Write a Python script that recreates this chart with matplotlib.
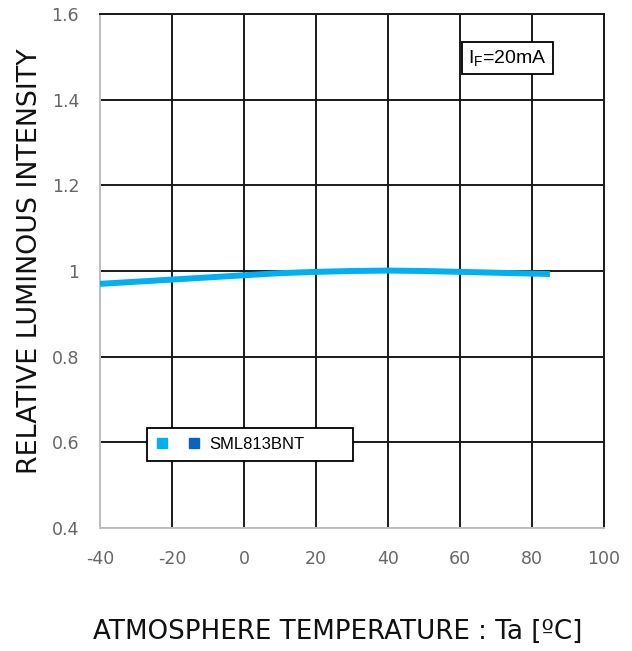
import matplotlib.pyplot as plt
from matplotlib.lines import Line2D
from matplotlib.legend_handler import HandlerTuple

plt.rcParams['axes.unicode_minus'] = False

# data
temp = [-40, -30, -20, -10, 0, 10, 20, 30, 40, 50, 60, 70, 80, 85]
intensity = [0.970, 0.975, 0.980, 0.985, 0.990, 0.995, 0.998, 1.000, 1.001, 1.000, 0.998, 0.996, 0.994, 0.993]

xticks = [-40, -20, 0, 20, 40, 60, 80, 100]
yticks = [0.4, 0.6, 0.8, 1.0, 1.2, 1.4, 1.6]
ytick_labels = ['0.4', '0.6', '0.8', '1', '1.2', '1.4', '1.6']

series_name = 'SML813BNT'
light_blue = '#00B0F0'
dark_blue = '#0563C1'

fig = plt.figure(figsize=(6.32, 6.51), dpi=100)
ax = fig.add_axes([100/632, 1-528/651, 504/632, 514/651])

ax.set_xlim(-40, 100)
ax.set_ylim(0.4, 1.6)
ax.set_xticks(xticks)
ax.set_yticks(yticks)
ax.set_yticklabels(ytick_labels)
ax.tick_params(length=0, labelsize=12.5, labelcolor='#666666')
ax.tick_params(axis='y', pad=15)
ax.tick_params(axis='x', pad=16)

ax.grid(True, color='#1a1a1a', linewidth=1.4)
ax.set_axisbelow(True)
for s in ['left', 'bottom']:
    ax.spines[s].set_color('#bfbfbf')
    ax.spines[s].set_linewidth(1.4)
for s in ['top', 'right']:
    ax.spines[s].set_color('#1a1a1a')
    ax.spines[s].set_linewidth(1.4)

ax.plot(temp, intensity, color=light_blue, linewidth=4.3, solid_capstyle='butt', zorder=3)

h1 = Line2D([], [], marker='s', linestyle='none', color=light_blue, markersize=7.5)
h2 = Line2D([], [], marker='s', linestyle='none', color=dark_blue, markersize=7.5)
leg = ax.legend([(h1, h2)], [series_name], handler_map={tuple: HandlerTuple(ndivide=None, pad=1.2)},
                loc='lower left', bbox_to_anchor=(0.093, 0.130, 0.409, 0.070), mode='expand',
                borderaxespad=0, prop={'family': 'Liberation Sans', 'size': 12}, handlelength=2.6,
                handletextpad=0.6, borderpad=0.55, fancybox=False, framealpha=1)
leg.get_frame().set_edgecolor('black')
leg.get_frame().set_linewidth(1.3)

ax.text(0.8085, 0.914, r'$\mathregular{I_F}$=20mA', transform=ax.transAxes, ha='center', va='center',
        family='Liberation Sans', fontsize=14,
        bbox=dict(boxstyle='square,pad=0.3', facecolor='white', edgecolor='black', linewidth=1.3))

fig.text(338/632, 1-639/651, 'ATMOSPHERE TEMPERATURE : Ta [ºC]', ha='center', va='baseline',
         fontsize=18.8, color='#111111')
fig.text(30/632, 1-261/651, 'RELATIVE LUMINOUS INTENSITY', ha='center', va='center', rotation=90,
         fontsize=19.4, color='#111111')

fig.savefig('out.png', dpi=100)
